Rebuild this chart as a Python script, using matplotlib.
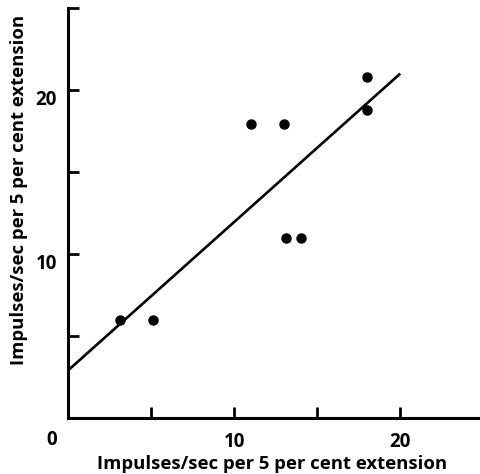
import matplotlib
matplotlib.use("Agg")
import matplotlib.pyplot as plt

x_vals = [3.1, 5.1, 11.0, 13.0, 13.1, 14.0, 18.0, 18.0]
y_vals = [6.0, 6.0, 17.9, 17.9, 11.0, 11.0, 20.8, 18.8]
fit_x = [0, 20]
fit_y = [2.9, 21.0]
x_ticks = [5, 10, 15, 20]
x_tick_labels = ["", "10", "", "20"]
y_ticks = [5, 10, 15, 20, 25]
y_tick_labels = ["", "10", "", "20", ""]
axis_label = "Impulses/sec per 5 per cent extension"

plt.rcParams['font.family'] = ['Open Sans', 'DejaVu Sans']
FS = 13.3
TFS = 13.5
fig = plt.figure(figsize=(4.8, 4.74), dpi=100)
ax = fig.add_axes([68/480, 56/474, 412/480, 410/474])
ax.set_xlim(0, 24.8)
ax.set_ylim(0, 25)

ax.plot(fit_x, fit_y, color='black', lw=1.9, solid_capstyle='butt')
ax.plot(x_vals, y_vals, 'o', color='black', ms=6.5)

for s in ['top', 'right']:
    ax.spines[s].set_visible(False)
for s in ['left', 'bottom']:
    ax.spines[s].set_linewidth(2.2)

ax.set_xticks(x_ticks)
ax.set_xticklabels(x_tick_labels)
ax.set_yticks(y_ticks)
ax.set_yticklabels(y_tick_labels)
ax.tick_params(axis='both', direction='in', length=8, width=2.0, labelsize=TFS)
ax.tick_params(axis='x', pad=10)
ax.tick_params(axis='y', pad=8)
for t in ax.get_xticklabels() + ax.get_yticklabels():
    t.set_fontweight('bold')
for t in ax.get_yticklabels():
    t.set_verticalalignment('top')

fig.text(52/480, (474-445)/474, "0", ha='center', va='baseline',
         fontsize=TFS, fontweight='bold')

fig.text(272/480, (474-469)/474, axis_label, ha='center', va='baseline',
         fontsize=FS, fontweight='bold')
fig.text(24/480, (474-190)/474, axis_label, ha='center', va='baseline',
         rotation=90, rotation_mode='anchor', fontsize=FS, fontweight='bold')

fig.savefig("out.png", dpi=100)
